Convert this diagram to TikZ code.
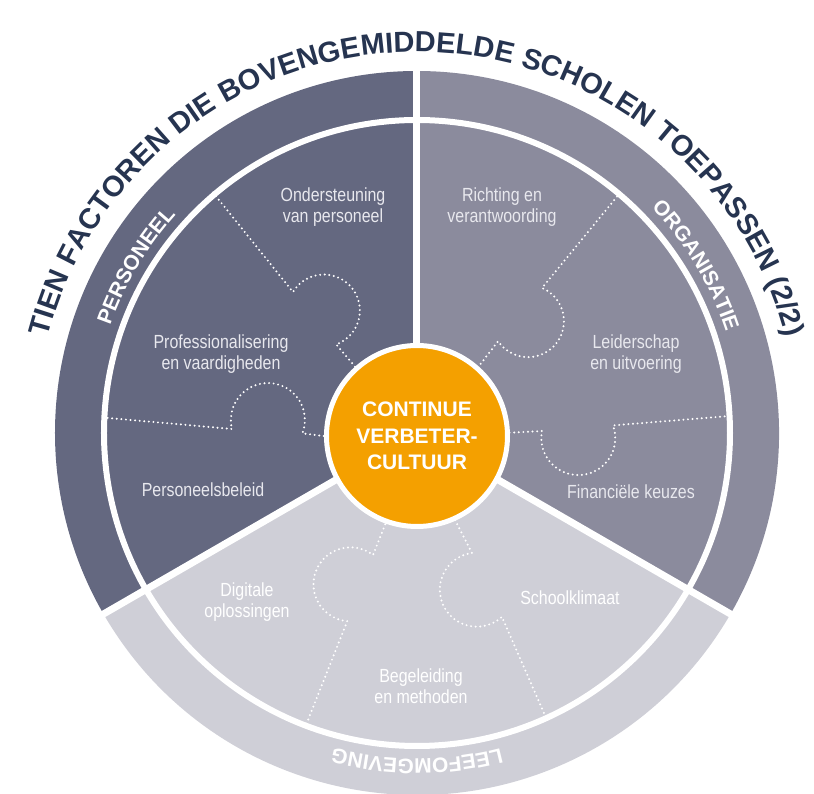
\documentclass[tikz,border=0pt]{standalone}
\usepackage{fontspec}
\setmainfont{Liberation Sans}
\newfontfamily\labelfont{Liberation Sans}[FakeStretch=0.84]
\newfontfamily\bandfamily{Liberation Sans}[LetterSpace=2]
\newfontfamily\titlefamily{Liberation Sans}[LetterSpace=2]
\usetikzlibrary{decorations.text}

\definecolor{slate}{RGB}{100,104,128}
\definecolor{mist}{RGB}{139,139,157}
\definecolor{haze}{RGB}{207,207,215}
\definecolor{amber}{RGB}{244,160,0}
\definecolor{navy}{RGB}{38,52,80}
\definecolor{softwhite}{RGB}{232,232,238}

\newcommand\titlestyle{\titlefamily\fontsize{29}{29}\selectfont\bfseries\color{navy}}
\newcommand\bandstyle{\bandfamily\fontsize{21}{21}\selectfont\bfseries\color{white}}

\tikzset{
  factor/.style={align=center, text=softwhite, font=\labelfont\fontsize{19}{21}\selectfont, inner sep=0pt},
  factorlight/.style={factor, text=white},
  seam/.style={white, line width=2.2pt, line cap=round, dash pattern=on 0pt off 4.6pt},
  divider/.style={white, line width=7pt},
}

\begin{document}
\begin{tikzpicture}[x=1pt, y=1pt]
  \useasboundingbox (-417,-361) rectangle (397,433);

  % three coloured sectors of the wheel
  \fill[slate] (0,0) -- (90:362pt) arc[start angle=90, end angle=210, radius=362pt] -- cycle;
  \fill[haze]  (0,0) -- (210:362pt) arc[start angle=210, end angle=330, radius=362pt] -- cycle;
  \fill[mist]  (0,0) -- (330:362pt) arc[start angle=330, end angle=450, radius=362pt] -- cycle;

  % puzzle seams between the ten factors
  \draw[seam] (-204,240.5) -- (-124,141) arc[start angle=149, end angle=-70, radius=36pt] -- (-60,64);
  \draw[seam] (203,240) -- (125,145) arc[start angle=67, end angle=-146, radius=36pt] -- (62,67);
  \draw[seam] (-314,15.5) -- (-185,4) arc[start angle=194, end angle=-21, radius=37pt] -- (-90,-3.5);
  \draw[seam] (88,0) -- (125,2) arc[start angle=169, end angle=380, radius=37pt] -- (315,17.2);
  \draw[seam] (-30,-87) -- (-44,-122) arc[start angle=52.5, end angle=265, radius=37pt] -- (-111,-292);
  \draw[seam] (36,-83) -- (55,-120) arc[start angle=97.5, end angle=312.7, radius=37pt] -- (130,-287);

  % white ring and sector dividers
  \draw[white, line width=6pt] (0,0) circle[radius=313pt];
  \draw[divider] (0,0) -- (90:365pt);
  \draw[divider] (0,0) -- (210:365pt);
  \draw[divider] (0,0) -- (330:365pt);

  % centre
  \node[circle, fill=amber, draw=white, line width=5pt, minimum size=181pt, inner sep=0pt,
        align=center, text=white, font=\bfseries\fontsize{21}{26.5}\selectfont]
        (core) at (0,-3) {CONTINUE\\VERBETER-\\CULTUUR};

  % factor labels
  \node[factor] (f1) at (-84,226) {Ondersteuning\\van personeel};
  \node[factor] (f2) at (-196,79) {Professionalisering\\en vaardigheden};
  \node[factor] (f3) at (-214,-57) {Personeelsbeleid};
  \node[factor] (f4) at (85,226) {Richting en\\verantwoording};
  \node[factor] (f5) at (219,79) {Leiderschap\\en uitvoering};
  \node[factor] (f6) at (214,-59) {Financiële keuzes};
  \node[factorlight] (f7) at (-170,-169) {Digitale\\oplossingen};
  \node[factorlight] (f8) at (4,-253) {Begeleiding\\en methoden};
  \node[factorlight] (f9) at (153,-165) {Schoolklimaat};

  % band names in the outer ring
  \path[decorate, decoration={text along path, text align=center,
        text={|\bandstyle|PERSONEEL}}]
    (174.3:325pt) arc[start angle=174.3, end angle=124.3, radius=325pt];
  \path[decorate, decoration={text along path, text align=center,
        text={|\bandstyle|ORGANISATIE}}]
    (61:325pt) arc[start angle=61, end angle=1, radius=325pt];
  \path[decorate, decoration={text along path, text align=center,
        text={|\bandstyle|LEEFOMGEVING}}]
    (305:326pt) arc[start angle=305, end angle=235, radius=326pt];

  % title
  \path[decorate, decoration={text along path, text align=center,
        text={|\titlestyle|TIEN FACTOREN DIE BOVENGEMIDDELDE SCHOLEN TOEPASSEN (2/2)}}]
    (180:381pt) arc[start angle=180, end angle=0, radius=381pt];
\end{tikzpicture}
\end{document}
